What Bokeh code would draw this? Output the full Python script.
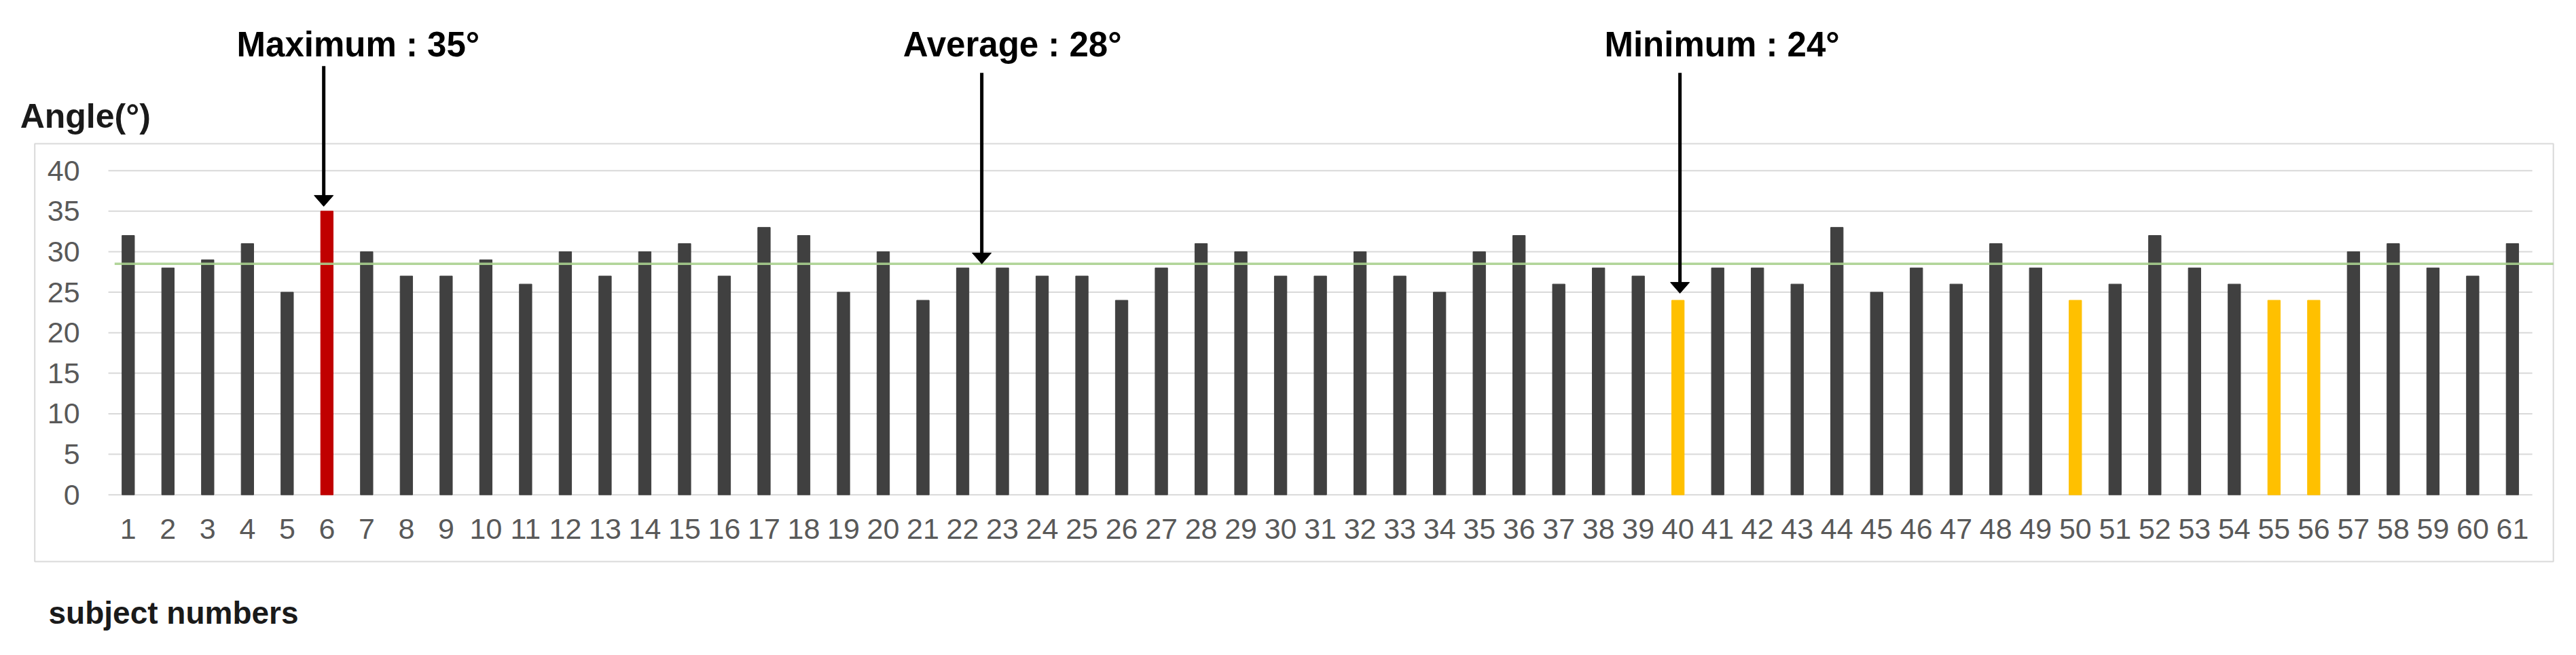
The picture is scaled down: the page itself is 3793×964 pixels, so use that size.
from bokeh.plotting import figure
from bokeh.models import LinearAxis, FixedTicker, Range1d, ColumnDataSource
from bokeh.core.properties import value
from bokeh.embed import file_html
from bokeh.resources import INLINE

# ---------------- data ----------------
subjects = list(range(1, 62))
angles = [32, 28, 29, 31, 25, 35, 30, 27, 27, 29,
          26, 30, 27, 30, 31, 27, 33, 32, 25, 30,
          24, 28, 28, 27, 27, 24, 28, 31, 30, 27,
          27, 30, 27, 25, 30, 32, 26, 28, 27, 24,
          28, 28, 26, 33, 25, 28, 26, 31, 28, 24,
          26, 32, 28, 26, 24, 24, 30, 31, 28, 27, 31]
max_subjects = [6]
min_subjects = [40, 50, 55, 56]
average_value = 28.5
y_ticks = [0, 5, 10, 15, 20, 25, 30, 35, 40]
annot_texts = ["Maximum : 35°", "Average : 28°", "Minimum : 24°"]
y_title = "Angle(°)"
x_title = "subject numbers"

# ---------------- styles / layout ----------------
DARK = "#404040"
RED = "#C00000"
YELLOW = "#FFC000"
GRID = "#D9D9D9"
GREEN = "#A9D08E"
TICK_COLOR = "#595959"
FONT = "Liberation Sans"

W, H = 3793, 964
PX_X = 58.51    # pixels per subject
PX_Y = 11.925   # pixels per degree
TXT_DY = 1.43   # baseline correction for text glyphs (data units)

bar_colors = [RED if s in max_subjects else (YELLOW if s in min_subjects else DARK)
              for s in subjects]

src = ColumnDataSource(dict(x=subjects, top=angles, color=bar_colors))

p = figure(width=W, height=H,
           x_range=Range1d(-2.2183, 62.608), y_range=Range1d(-19.816, 61.023),
           x_axis_location=None, y_axis_location=None,
           toolbar_location=None, tools="", output_backend="svg",
           min_border=0, min_border_left=0, min_border_right=0,
           min_border_top=0, min_border_bottom=0)
p.outline_line_color = None
p.grid.visible = False
p.background_fill_color = "white"
p.border_fill_color = "white"

# chart area border
p.quad(left=-1.352, right=62.03, top=43.33, bottom=-8.24,
       fill_color=None, line_color=GRID, line_width=2)

# horizontal grid lines
gx0 = subjects[0] - 0.5
gx1 = subjects[-1] + 0.5
p.segment(x0=[gx0] * len(y_ticks), x1=[gx1] * len(y_ticks), y0=y_ticks, y1=y_ticks,
          line_color=GRID, line_width=2)

# bars
p.vbar(x="x", top="top", bottom=0, width=0.313, source=src,
       fill_color="color", line_color="color")

# average line
p.segment(x0=[subjects[0] - 0.342], x1=[62.03], y0=[average_value], y1=[average_value],
          line_color=GREEN, line_width=3.5, line_alpha=0.9)

# axes
yaxis = LinearAxis(fixed_location=gx0, ticker=FixedTicker(ticks=y_ticks),
                   axis_line_color=None, major_tick_line_color=None,
                   minor_tick_line_color=None, major_label_standoff=36,
                   major_label_text_font=FONT, major_label_text_font_size="43px",
                   major_label_text_color=TICK_COLOR)
p.add_layout(yaxis, "left")

xaxis = LinearAxis(fixed_location=0, ticker=FixedTicker(ticks=subjects),
                   axis_line_color=None, major_tick_line_color=None,
                   minor_tick_line_color=None, major_label_standoff=30,
                   major_label_text_font=FONT, major_label_text_font_size="43px",
                   major_label_text_color=TICK_COLOR)
p.add_layout(xaxis, "below")

# annotation arrows (x, top, tip in data units)
arrow_x = [5.92, 22.48, 40.05]
arrow_top = [52.91, 52.08, 52.08]
arrow_tip = [35.6, average_value, 24.87]
head_half = 14 / PX_X
head_len = 16 / PX_Y
p.segment(x0=arrow_x, x1=arrow_x, y0=arrow_top, y1=[t + head_len * 0.8 for t in arrow_tip],
          line_color="black", line_width=5)
p.patches(xs=[[x - head_half, x + head_half, x] for x in arrow_x],
          ys=[[t + head_len, t + head_len, t] for t in arrow_tip],
          fill_color="black", line_color="black", line_width=1)

# annotation titles
title_x = [3.73, 20.5, 38.15]
title_y = [54.13 + TXT_DY] * 3
p.text(x=title_x, y=title_y, text=annot_texts,
       text_font=value(FONT), text_font_style="bold", text_font_size="51px",
       text_color="black", text_align="left", text_baseline="alphabetic")

# axis titles
p.text(x=[-1.72], y=[45.27 + TXT_DY], text=[y_title],
       text_font=value(FONT), text_font_style="bold", text_font_size="50px",
       text_color="#1a1a1a", text_align="left", text_baseline="alphabetic")
p.text(x=[-1.005], y=[-15.98 + TXT_DY], text=[x_title],
       text_font=value(FONT), text_font_style="bold", text_font_size="46px",
       text_color="#1a1a1a", text_align="left", text_baseline="alphabetic")

open("out.html", "w").write(file_html(p, INLINE))
